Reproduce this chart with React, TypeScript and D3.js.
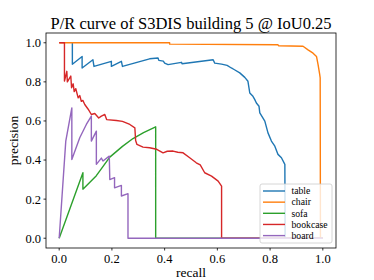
import React from "react";
import * as d3 from "d3";

const seriesNames = ["table", "chair", "sofa", "bookcase", "board"];
const seriesColors = ["#1f77b4", "#ff7f0e", "#2ca02c", "#d62728", "#9467bd"];

const tablePR: [number, number][] = [
  [0.05, 1.0], [0.05, 0.89], [0.087, 0.93], [0.087, 0.871], [0.128, 0.913], [0.132, 0.879],
  [0.198, 0.905], [0.198, 0.879], [0.236, 0.905], [0.24, 0.879], [0.343, 0.918], [0.375, 0.922],
  [0.378, 0.91], [0.395, 0.906], [0.4, 0.896], [0.413, 0.888], [0.464, 0.9], [0.466, 0.893],
  [0.584, 0.913], [0.59, 0.896], [0.616, 0.891], [0.637, 0.884], [0.653, 0.871], [0.665, 0.862],
  [0.685, 0.846], [0.704, 0.823], [0.716, 0.803], [0.723, 0.743], [0.735, 0.726], [0.742, 0.709],
  [0.748, 0.692], [0.758, 0.675], [0.761, 0.641], [0.78, 0.599], [0.792, 0.539], [0.805, 0.497],
  [0.818, 0.471], [0.83, 0.429], [0.843, 0.412], [0.856, 0.378], [0.857, 0.0], [1.0, 0.0],
];

const chairPR: [number, number][] = [
  [0, 1], [0.419, 1], [0.419, 0.993], [0.83, 0.99], [0.832, 0.985], [0.925, 0.982],
  [0.944, 0.964], [0.963, 0.947], [0.976, 0.93], [0.982, 0.888], [0.988, 0.84], [0.99, 0.82],
  [0.991, 0], [1, 0],
];

const sofaPR: [number, number][] = [
  [0, 0], [0.09, 0.335], [0.09, 0.251], [0.141, 0.32], [0.192, 0.415], [0.24, 0.47],
  [0.28, 0.51], [0.32, 0.54], [0.366, 0.57], [0.366, 0], [1, 0],
];

const bookcasePR: [number, number][] = [
  [0, 1], [0.02, 1], [0.02, 0.804], [0.029, 0.854], [0.031, 0.8], [0.044, 0.83], [0.047, 0.77],
  [0.053, 0.79], [0.057, 0.75], [0.063, 0.765], [0.072, 0.718], [0.078, 0.73], [0.084, 0.7],
  [0.09, 0.705], [0.097, 0.684], [0.11, 0.66], [0.122, 0.633], [0.135, 0.638], [0.15, 0.615],
  [0.16, 0.625], [0.173, 0.633], [0.18, 0.607], [0.217, 0.602], [0.24, 0.598], [0.268, 0.582],
  [0.287, 0.565], [0.29, 0.5], [0.295, 0.48], [0.318, 0.466], [0.343, 0.463], [0.37, 0.455],
  [0.394, 0.437], [0.41, 0.445], [0.432, 0.446], [0.45, 0.44], [0.47, 0.437], [0.495, 0.412],
  [0.52, 0.386], [0.535, 0.375], [0.552, 0.335], [0.578, 0.318], [0.603, 0.292], [0.616, 0.267],
  [0.616, 0], [1, 0],
];

const boardPR: [number, number][] = [
  [0, 0], [0.025, 0.497], [0.048, 0.667], [0.048, 0.403], [0.078, 0.514], [0.103, 0.582],
  [0.122, 0.625], [0.122, 0.497], [0.141, 0.548], [0.141, 0.378], [0.16, 0.41], [0.166, 0.395],
  [0.19, 0.42], [0.192, 0.3], [0.21, 0.31], [0.21, 0.258], [0.236, 0.27], [0.236, 0.216],
  [0.261, 0.228], [0.261, 0], [1, 0],
];

const seriesData = [tablePR, chairPR, sofaPR, bookcasePR, boardPR];
const xTicks = [0, 0.2, 0.4, 0.6, 0.8, 1.0];
const yTicks = [0, 0.2, 0.4, 0.6, 0.8, 1.0];
const titleText = "P/R curve of S3DIS building 5 @ IoU0.25";

const W = 374, H = 280;
const L = 46, R = 336, T = 33, B = 248;
const FONT = "Liberation Serif, Times New Roman, serif";

export default function App() {
  const x = d3.scaleLinear().domain([-0.05, 1.05]).range([L, R]);
  const y = d3.scaleLinear().domain([-0.05, 1.05]).range([B, T]);
  const line = d3.line<[number, number]>().x(d => x(d[0])).y(d => y(d[1]));
  const legX = 260, legY = 184, legW = 72, legH = 59;
  const ts = { fontFamily: FONT };
  return (
    <svg width={W} height={H} style={{ position: "absolute", left: 0, top: 0, background: "#fff" }}>
      <text x={(L + R) / 2} y={29} textAnchor="middle" fontSize={16.5} style={ts}>{titleText}</text>
      {seriesData.map((d, i) => (
        <path key={i} d={line(d) || ""} fill="none" stroke={seriesColors[i]} strokeWidth={1.4}
          strokeLinejoin="round" />
      ))}
      <rect x={L} y={T} width={R - L} height={B - T} fill="none" stroke="#000" strokeWidth={0.8} />
      {xTicks.map(t => (
        <g key={"x" + t}>
          <line x1={x(t)} x2={x(t)} y1={B} y2={B + 2.5} stroke="#000" strokeWidth={0.8} />
          <text x={x(t)} y={263} textAnchor="middle" fontSize={12.5} style={ts}>{t.toFixed(1)}</text>
        </g>
      ))}
      {yTicks.map(t => (
        <g key={"y" + t}>
          <line x1={L - 2.5} x2={L} y1={y(t)} y2={y(t)} stroke="#000" strokeWidth={0.8} />
          <text x={41} y={y(t)} dy="0.35em" textAnchor="end" fontSize={12.5} style={ts}>{t.toFixed(1)}</text>
        </g>
      ))}
      <text x={(L + R) / 2} y={277} textAnchor="middle" fontSize={13.5} style={ts}>recall</text>
      <text transform={`translate(18,${(T + B) / 2}) rotate(-90)`} textAnchor="middle" fontSize={13.5} style={ts}>precision</text>
      <rect x={legX} y={legY} width={legW} height={legH} rx={2} fill="#fff" fillOpacity={0.8}
        stroke="#cccccc" strokeWidth={0.8} />
      {seriesNames.map((n, i) => {
        const cy = 191 + i * 11.15;
        return (
          <g key={n}>
            <line x1={263} x2={285} y1={cy} y2={cy} stroke={seriesColors[i]} strokeWidth={1.4} />
            <text x={291.5} y={cy} dy="0.33em" fontSize={9.7} style={ts}>{n}</text>
          </g>
        );
      })}
    </svg>
  );
}
